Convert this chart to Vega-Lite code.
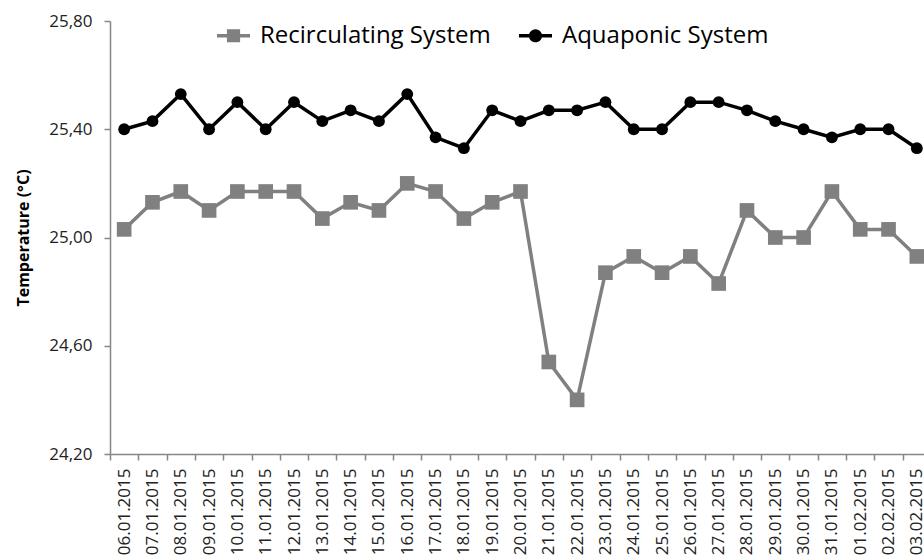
{
  "$schema": "https://vega.github.io/schema/vega-lite/v6.json",
  "autosize": "none",
  "padding": {"left": 110, "top": 21, "right": 0, "bottom": 120},
  "width": 821,
  "height": 433,
  "background": "white",
  "config": {
    "view": {"stroke": null},
    "font": "Open Sans",
    "axis": {"grid": false, "domainColor": "#868686", "tickColor": "#868686", "domainWidth": 1.5, "tickWidth": 1.5, "tickSize": 6, "labelColor": "#222222", "labelFont": "Open Sans", "labelFontSize": 15, "titleFont": "Open Sans"}
  },
  "data": {
    "values": [
      {"date": "06.01.2015", "series": "Recirculating System", "temp": 25.03},
      {"date": "07.01.2015", "series": "Recirculating System", "temp": 25.13},
      {"date": "08.01.2015", "series": "Recirculating System", "temp": 25.17},
      {"date": "09.01.2015", "series": "Recirculating System", "temp": 25.10},
      {"date": "10.01.2015", "series": "Recirculating System", "temp": 25.17},
      {"date": "11.01.2015", "series": "Recirculating System", "temp": 25.17},
      {"date": "12.01.2015", "series": "Recirculating System", "temp": 25.17},
      {"date": "13.01.2015", "series": "Recirculating System", "temp": 25.07},
      {"date": "14.01.2015", "series": "Recirculating System", "temp": 25.13},
      {"date": "15.01.2015", "series": "Recirculating System", "temp": 25.10},
      {"date": "16.01.2015", "series": "Recirculating System", "temp": 25.20},
      {"date": "17.01.2015", "series": "Recirculating System", "temp": 25.17},
      {"date": "18.01.2015", "series": "Recirculating System", "temp": 25.07},
      {"date": "19.01.2015", "series": "Recirculating System", "temp": 25.13},
      {"date": "20.01.2015", "series": "Recirculating System", "temp": 25.17},
      {"date": "21.01.2015", "series": "Recirculating System", "temp": 24.54},
      {"date": "22.01.2015", "series": "Recirculating System", "temp": 24.40},
      {"date": "23.01.2015", "series": "Recirculating System", "temp": 24.87},
      {"date": "24.01.2015", "series": "Recirculating System", "temp": 24.93},
      {"date": "25.01.2015", "series": "Recirculating System", "temp": 24.87},
      {"date": "26.01.2015", "series": "Recirculating System", "temp": 24.93},
      {"date": "27.01.2015", "series": "Recirculating System", "temp": 24.83},
      {"date": "28.01.2015", "series": "Recirculating System", "temp": 25.10},
      {"date": "29.01.2015", "series": "Recirculating System", "temp": 25.00},
      {"date": "30.01.2015", "series": "Recirculating System", "temp": 25.00},
      {"date": "31.01.2015", "series": "Recirculating System", "temp": 25.17},
      {"date": "01.02.2015", "series": "Recirculating System", "temp": 25.03},
      {"date": "02.02.2015", "series": "Recirculating System", "temp": 25.03},
      {"date": "03.02.2015", "series": "Recirculating System", "temp": 24.93},
      {"date": "06.01.2015", "series": "Aquaponic System", "temp": 25.40},
      {"date": "07.01.2015", "series": "Aquaponic System", "temp": 25.43},
      {"date": "08.01.2015", "series": "Aquaponic System", "temp": 25.53},
      {"date": "09.01.2015", "series": "Aquaponic System", "temp": 25.40},
      {"date": "10.01.2015", "series": "Aquaponic System", "temp": 25.50},
      {"date": "11.01.2015", "series": "Aquaponic System", "temp": 25.40},
      {"date": "12.01.2015", "series": "Aquaponic System", "temp": 25.50},
      {"date": "13.01.2015", "series": "Aquaponic System", "temp": 25.43},
      {"date": "14.01.2015", "series": "Aquaponic System", "temp": 25.47},
      {"date": "15.01.2015", "series": "Aquaponic System", "temp": 25.43},
      {"date": "16.01.2015", "series": "Aquaponic System", "temp": 25.53},
      {"date": "17.01.2015", "series": "Aquaponic System", "temp": 25.37},
      {"date": "18.01.2015", "series": "Aquaponic System", "temp": 25.33},
      {"date": "19.01.2015", "series": "Aquaponic System", "temp": 25.47},
      {"date": "20.01.2015", "series": "Aquaponic System", "temp": 25.43},
      {"date": "21.01.2015", "series": "Aquaponic System", "temp": 25.47},
      {"date": "22.01.2015", "series": "Aquaponic System", "temp": 25.47},
      {"date": "23.01.2015", "series": "Aquaponic System", "temp": 25.50},
      {"date": "24.01.2015", "series": "Aquaponic System", "temp": 25.40},
      {"date": "25.01.2015", "series": "Aquaponic System", "temp": 25.40},
      {"date": "26.01.2015", "series": "Aquaponic System", "temp": 25.50},
      {"date": "27.01.2015", "series": "Aquaponic System", "temp": 25.50},
      {"date": "28.01.2015", "series": "Aquaponic System", "temp": 25.47},
      {"date": "29.01.2015", "series": "Aquaponic System", "temp": 25.43},
      {"date": "30.01.2015", "series": "Aquaponic System", "temp": 25.40},
      {"date": "31.01.2015", "series": "Aquaponic System", "temp": 25.37},
      {"date": "01.02.2015", "series": "Aquaponic System", "temp": 25.40},
      {"date": "02.02.2015", "series": "Aquaponic System", "temp": 25.40},
      {"date": "03.02.2015", "series": "Aquaponic System", "temp": 25.33}
    ]
  },
  "encoding": {
    "x": {
      "field": "date", "type": "ordinal", "sort": null,
      "scale": {"type": "band", "paddingInner": 0, "paddingOuter": 0},
      "axis": {"title": null, "labelAngle": -90, "labelPadding": 8, "tickBand": "extent", "labelFontSize": 17}
    },
    "y": {
      "field": "temp", "type": "quantitative",
      "scale": {"domain": [24.2, 25.8], "zero": false, "nice": false},
      "axis": {"title": "Temperature (°C)", "values": [24.2, 24.6, 25.0, 25.4, 25.8], "labelExpr": "replace(format(datum.value, '.2f'), '.', ',')", "labelPadding": 12, "labelFontSize": 17, "titleFontSize": 16, "titleFontWeight": "bold", "titleColor": "#000000", "titlePadding": 17}
    }
  },
  "layer": [
    {
      "mark": {"type": "line", "strokeWidth": 3.5},
      "encoding": {
        "color": {"field": "series", "type": "nominal", "scale": {"domain": ["Recirculating System", "Aquaponic System"], "range": ["#808080", "#000000"]}, "legend": null}
      }
    },
    {
      "mark": {"type": "point", "filled": true, "opacity": 1},
      "encoding": {
        "color": {"field": "series", "type": "nominal", "scale": {"domain": ["Recirculating System", "Aquaponic System"], "range": ["#808080", "#000000"]}, "legend": null},
        "shape": {"field": "series", "type": "nominal", "scale": {"domain": ["Recirculating System", "Aquaponic System"], "range": ["square", "circle"]}, "legend": null},
        "size": {"field": "series", "type": "nominal", "scale": {"domain": ["Recirculating System", "Aquaponic System"], "range": [215, 140]}, "legend": null}
      }
    },
    {
      "mark": {"type": "point", "filled": true, "opacity": 0},
      "encoding": {
        "color": {"field": "series", "type": "nominal", "scale": {"domain": ["Recirculating System", "Aquaponic System"], "range": ["#808080", "#000000"]},
          "legend": {"title": null, "orient": "none", "legendX": 107, "legendY": -2, "direction": "horizontal", "symbolOpacity": 1, "symbolSize": 1089, "symbolStrokeWidth": 0, "labelFontSize": 24, "labelFont": "Open Sans", "labelColor": "#000000", "labelOffset": 10, "labelLimit": 600, "columnPadding": 28, "padding": 0}},
        "shape": {"field": "series", "type": "nominal", "scale": {"domain": ["Recirculating System", "Aquaponic System"], "range": ["M-1,-0.1H1V0.1H-1Z M-0.4,-0.4H0.4V0.4H-0.4Z", "M-1,-0.1H1V0.1H-1Z M-0.4,0A0.4,0.4 0 1,1 0.4,0A0.4,0.4 0 1,1 -0.4,0Z"]},
          "legend": {"title": null, "orient": "none", "legendX": 107, "legendY": -2, "direction": "horizontal", "symbolOpacity": 1, "symbolSize": 1089, "symbolStrokeWidth": 0, "labelFontSize": 24, "labelFont": "Open Sans", "labelColor": "#000000", "labelOffset": 10, "labelLimit": 600, "columnPadding": 28, "padding": 0}}
      }
    }
  ],
  "resolve": {"scale": {"color": "independent", "shape": "independent"}}
}
